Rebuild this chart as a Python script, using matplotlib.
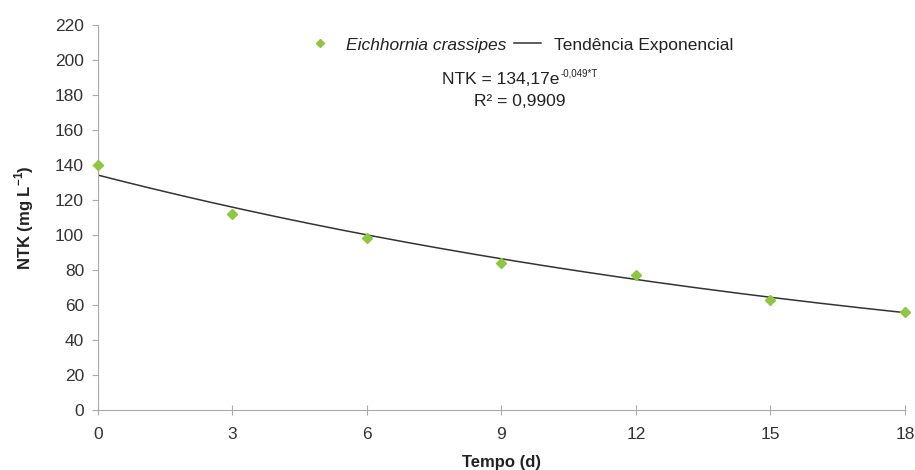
import numpy as np
import matplotlib.pyplot as plt
from matplotlib.lines import Line2D

plt.rcParams['font.family'] = ['Liberation Sans', 'DejaVu Sans']

# dados
tempo = [0, 3, 6, 9, 12, 15, 18]
ntk = [140, 112, 98, 84, 77, 63, 56]
# coeficientes da tendência exponencial (do rótulo)
coef_a = 134.17
coef_b = -0.049
xticks = [0, 3, 6, 9, 12, 15, 18]
yticks = list(range(0, 221, 20))

verde = '#8dc63f'
fig = plt.figure(figsize=(9.15, 4.7), dpi=100)
ax = fig.add_axes([0.107, 0.128, 0.882, 0.819])

t_fit = np.linspace(0, 18, 200)
ax.plot(t_fit, coef_a * np.exp(coef_b * t_fit), color='#333333', lw=1.1, zorder=2)
ax.plot(tempo, ntk, linestyle='none', marker='D', markersize=5,
        color=verde, markeredgecolor=verde, zorder=3, clip_on=False)

ax.set_xlim(0, 18)
ax.set_ylim(0, 220)
ax.set_xticks(xticks)
ax.set_yticks(yticks)
for s in ['top', 'right']:
    ax.spines[s].set_visible(False)
for s in ['left', 'bottom']:
    ax.spines[s].set_color('#aaaaaa')
ax.tick_params(colors='#aaaaaa', labelcolor='#333333', labelsize=12.5, direction='out', length=4)
ax.tick_params(axis='x', direction='inout', length=7, pad=9)
ax.tick_params(axis='y', pad=6)

ax.set_xlabel('Tempo (d)', fontsize=12, fontweight='bold', labelpad=9, color='#222222')
ax.set_ylabel('NTK (mg L$^{\\mathregular{-1}}$)', fontsize=12, fontweight='bold', labelpad=14,
              color='#222222')

handles = [Line2D([], [], linestyle='none', marker='D', markersize=4, color=verde),
           Line2D([], [], color='#333333', lw=1.1)]
leg = fig.legend(handles, ['Eichhornia crassipes', 'Tendência Exponencial'],
                 loc='center', bbox_to_anchor=(0.568, 1 - 45 / 470), ncol=2, frameon=False,
                 fontsize=12.5, handlelength=1.6, columnspacing=0.4, handletextpad=0.7)
leg.get_texts()[0].set_fontstyle('italic')
for t in leg.get_texts():
    t.set_color('#222222')

# equação: texto base + expoente pequeno, centrados juntos
renderer = fig.canvas.get_renderer()
cx = 0.568 * 915
y_eq = 1 - 80 / 470
base = fig.text(0, y_eq, 'NTK = 134,17e', fontsize=12.5, va='center', ha='left', color='#222222')
expo = fig.text(0, y_eq + 6 / 470, '-0,049*T', fontsize=7, va='center', ha='left', color='#222222')
w1 = base.get_window_extent(renderer).width
w2 = expo.get_window_extent(renderer).width
x0 = cx - (w1 + w2) / 2
base.set_x(x0 / 915)
expo.set_x((x0 + w1 + 1) / 915)
fig.text(0.568, 1 - 101 / 470, 'R² = 0,9909', fontsize=12.5, va='center', ha='center', color='#222222')

fig.savefig('out.png', dpi=100)
